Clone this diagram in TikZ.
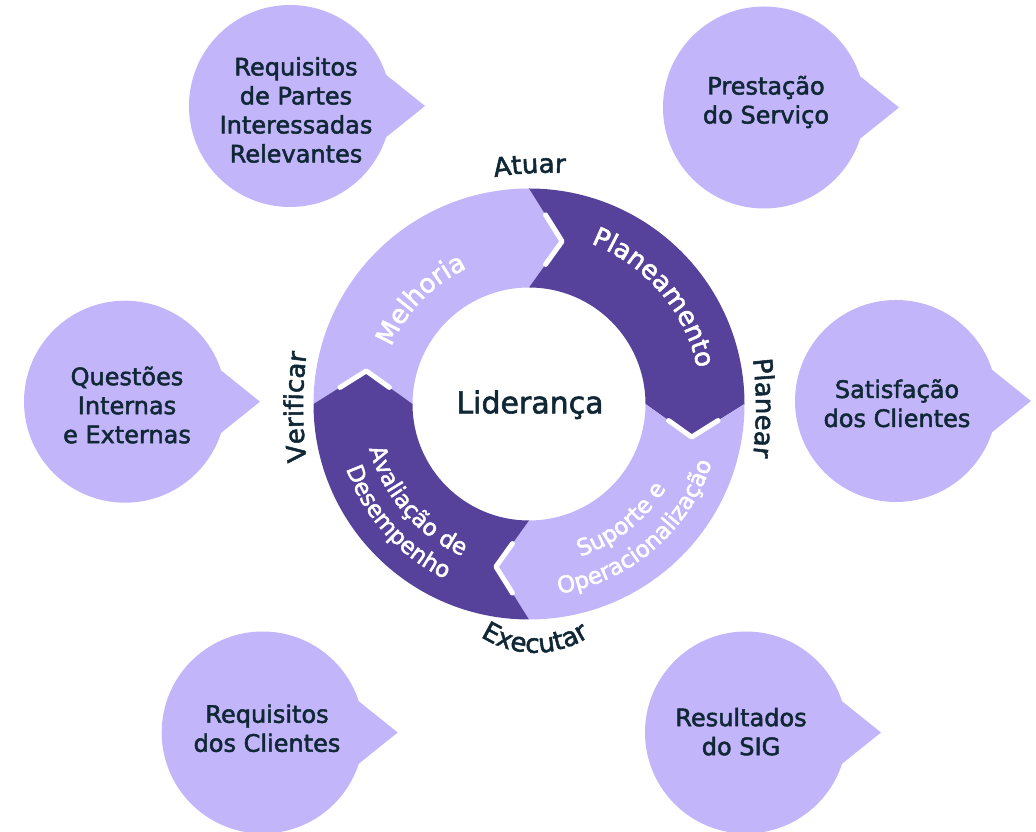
\documentclass[tikz,border=0pt]{standalone}
\usepackage{fontspec}
\usetikzlibrary{decorations.text,calc}
\newfontfamily\labfont{DejaVu Sans}[FakeBold=2]
\definecolor{lightP}{RGB}{194,181,250}
\definecolor{darkP}{RGB}{86,66,155}
\definecolor{inkC}{RGB}{16,40,54}
\def\Ro{215.5}
\def\Ri{116.5}
\def\Rm{166}
\def\dl{11.5}
\newcommand{\RingTxt}{\labfont\fontsize{26}{26}\selectfont\color{white}}
\newcommand{\RingTxtS}{\labfont\fontsize{23}{23}\selectfont\color{white}}
\newcommand{\OutTxt}{\labfont\fontsize{26}{26}\selectfont\color{inkC}}
\newcommand{\RingSeg}[3]{%
  \fill[#3] ($(C)+(#1:\Ro)$) arc[start angle=#1, end angle=#2, radius=\Ro]
    -- ($(C)+(#2-\dl:\Rm)$) -- ($(C)+(#2:\Ri)$)
    arc[start angle=#2, end angle=#1, radius=\Ri]
    -- ($(C)+(#1-\dl:\Rm)$) -- cycle;}
\newcommand{\Bubble}[1]{%
  \fill[lightP] (#1) circle[radius=101];
  \fill[lightP] ($(#1)+(18:101)$) -- ($(#1)+(135,0)$) -- ($(#1)+(-18:101)$) -- cycle;}
\begin{document}
\begin{tikzpicture}[x=1pt,y=1pt,
  btext/.style={text=inkC, font=\labfont\fontsize{24}{29}\selectfont, align=center, inner sep=0pt},
  chev/.style={draw=white, line width=5pt, line cap=round, line join=round}]
\useasboundingbox (0,0) rectangle (1036,832);
% bubbles
\coordinate (b1) at (290,726);
\coordinate (b2) at (764,724.5);
\coordinate (b3) at (125,430.3);
\coordinate (b4) at (896,431);
\coordinate (b5) at (262.7,99.5);
\coordinate (b6) at (746,99.5);
\Bubble{b1}\Bubble{b2}\Bubble{b3}\Bubble{b4}\Bubble{b5}\Bubble{b6}
\node[btext] (t1) at (296,722) {Requisitos\\de Partes\\Interessadas\\Relevantes};
\node[btext] (t2) at (766,730) {Prestação\\do Serviço};
\node[btext] (t3) at (127,427) {Questões\\Internas\\e Externas};
\node[btext] (t4) at (897,428.7) {Satisfação\\dos Clientes};
\node[btext] (t5) at (267,103.7) {Requisitos\\dos Clientes};
\node[btext] (t6) at (741,100.3) {Resultados\\do SIG};
% ring
\coordinate (C) at (529,428);
\RingSeg{180}{90}{lightP}
\RingSeg{90}{0}{darkP}
\RingSeg{0}{-90}{lightP}
\RingSeg{-90}{-180}{darkP}
\foreach \bb in {90,0,-90,180}{
  \coordinate (tp) at ($(C)+(\bb-\dl:\Rm)$);
  \coordinate (po) at ($(C)+(\bb:\Ro)$);
  \coordinate (pi) at ($(C)+(\bb:\Ri)$);
  \draw[chev] ($(tp)!0.5!(po)$) -- (tp) -- ($(tp)!0.5!(pi)$);
}
\node[text=inkC, font=\labfont\fontsize{30}{36}\selectfont, anchor=base] (lid) at (530,418.7) {Liderança};
% ring texts
\path[decorate, decoration={text along path, text align=center, text={|\RingTxt|Melhoria}}]
  ($(C)+(176:149)$) arc[start angle=176, end angle=96, radius=149];
\path[decorate, decoration={text along path, text align=center, text={|\RingTxt|Planeamento}}]
  ($(C)+(100.4:172)$) arc[start angle=100.4, end angle=-19.6, radius=172];
\path[decorate, decoration={text along path, text align=center, text={|\RingTxtS|Suporte e}}]
  ($(C)+(-101.5:161)$) arc[start angle=-101.5, end angle=-1.5, radius=161];
\path[decorate, decoration={text along path, text align=center, text={|\RingTxtS|Operacionalização}}]
  ($(C)+(-104.4:192)$) arc[start angle=-104.4, end angle=5.6, radius=192];
\path[decorate, decoration={text along path, text align=center, text={|\RingTxtS|Avaliação de}}]
  ($(C)+(171:166)$) arc[start angle=171, end angle=271, radius=166];
\path[decorate, decoration={text along path, text align=center, text={|\RingTxtS|Desempenho}}]
  ($(C)+(172:194)$) arc[start angle=172, end angle=272, radius=194];
% outer labels
\coordinate (oA) at (548,334.3);
\coordinate (oP) at (356,424);
\coordinate (oV) at (703,425);
\coordinate (oE) at (535,279.3);
\path[decorate, decoration={text along path, text align=center, text={|\OutTxt|Atuar}}]
  ($(oA)+(113.2:325)$) arc[start angle=113.2, end angle=73.2, radius=325];
\path[decorate, decoration={text along path, text align=center, text={|\OutTxt|Planear}}]
  ($(oP)+(15:400)$) arc[start angle=15, end angle=-15, radius=400];
\path[decorate, decoration={text along path, text align=center, text={|\OutTxt|Verificar}}]
  ($(oV)+(195:400)$) arc[start angle=195, end angle=165, radius=400];
\path[decorate, decoration={text along path, text align=center, text={|\OutTxt|Executar}}]
  ($(oE)+(190:100)$) arc[start angle=190, end angle=350, radius=100];
\end{tikzpicture}
\end{document}
